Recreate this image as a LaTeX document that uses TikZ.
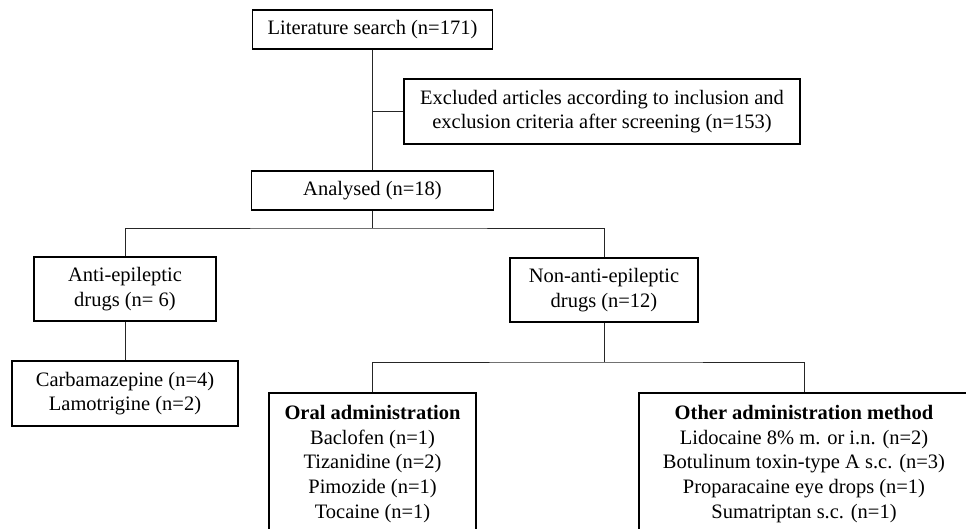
\documentclass[tikz,border=0pt]{standalone}
\usepackage{fontspec}
\setmainfont{Liberation Serif}
\usepackage{tikz}
\usetikzlibrary{positioning,calc}

\begin{document}
\begin{tikzpicture}[x=1pt,y=-1pt,
  box/.style={draw,line width=1.1pt,align=center,inner sep=0pt,
    font=\fontsize{20.5}{24.6}\selectfont},
  conn/.style={draw,line width=0.9pt,black!85}]
\clip (0,0) rectangle (966,528);
\fill[white] (0,0) rectangle (966,528);
% boxes
\node[box,minimum width=240,minimum height=39] (lit) at (372.5,29.5) {Literature search (n=171)};
\node[box,minimum width=396,minimum height=65] (excl) at (602,111.5) {Excluded articles according to inclusion and\\exclusion criteria after screening (n=153)};
\node[box,minimum width=242,minimum height=39] (ana) at (372.5,190.5) {Analysed (n=18)};
\node[box,minimum width=182,minimum height=64] (anti) at (125,289) {Anti-epileptic\\drugs (n= 6)};
\node[box,minimum width=188,minimum height=64] (non) at (604,290) {Non-anti-epileptic\\drugs (n=12)};
\node[box,minimum width=226,minimum height=65] (carb) at (125,393.5) {Carbamazepine (n=4)\\Lamotrigine (n=2)};
\node[box,minimum width=207,minimum height=142] (oral) at (372.5,464) {\textbf{Oral administration}\\Baclofen (n=1)\\Tizanidine (n=2)\\Pimozide (n=1)\\Tocaine (n=1)};
\node[box,minimum width=330,minimum height=142] (other) at (804,464) {\textbf{Other administration method}\\Lidocaine 8\% m. or i.n. (n=2)\\Botulinum toxin-type A s.c. (n=3)\\Proparacaine eye drops (n=1)\\Sumatriptan s.c. (n=1)};
% junctions
\coordinate (j1) at (372.5,228);
\coordinate (j2) at (604,362);
% connectors
\draw[conn] (lit.south) -- (ana.north);
\draw[conn] (lit.south |- excl.west) -- (excl.west);
\draw[conn] (ana.south) -- (j1);
\draw[conn] (anti.north) |- (j1) -| (non.north);
\draw[conn] (anti.south) -- (carb.north);
\draw[conn] (non.south) -- (j2);
\draw[conn] (oral.north) |- (j2) -| (other.north);
\end{tikzpicture}
\end{document}
